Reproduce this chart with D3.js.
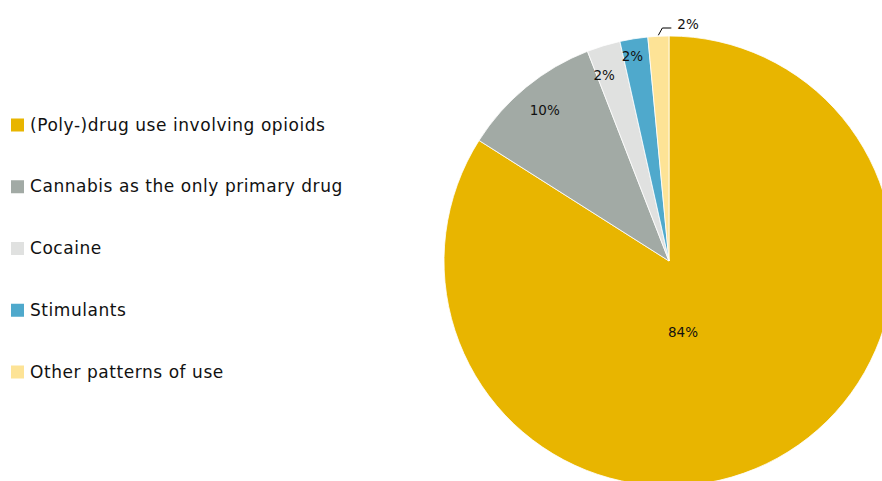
<!DOCTYPE html>
<html><head><meta charset="utf-8">
<script src="https://cdn.jsdelivr.net/npm/d3@7"></script>
<style>html,body{margin:0;padding:0;background:#fff;overflow:hidden}</style>
</head><body>
<svg id="chart" width="882" height="481"></svg>
<script>
const categories = ["(Poly-)drug use involving opioids","Cannabis as the only primary drug","Cocaine","Stimulants","Other patterns of use"];
const values = [84.0, 10.1, 2.4, 2.0, 1.5];
const labels = ["84%","10%","2%","2%","2%"];
const colors = ["#E8B500","#A2AAA5","#E0E1E0","#4FA9CC","#FDE396"];

const svg = d3.select("#chart");
const font = "'DejaVu Sans', Verdana, sans-serif";
const cx = 669, cy = 261, R = 225;
// label placement (layout only): radius factor and angle shift per slice
const labelRadius = [0.325, 0.87, 0.875, 0.925];
const labelShift = [0.31, 0, -0.04, -0.02];

const pie = d3.pie().sort(null).value(d => d)(values);
const arc = d3.arc().innerRadius(0).outerRadius(R);
const g = svg.append("g").attr("transform", `translate(${cx},${cy})`);
g.selectAll("path").data(pie).join("path")
  .attr("d", arc).attr("fill", (d,i) => colors[i])
  .attr("stroke", "#fff").attr("stroke-width", 0.8);

pie.forEach((d,i) => {
  const a = (d.startAngle + d.endAngle)/2;
  if (i === pie.length-1) {
    const x0 = Math.sin(a)*(R+1), y0 = -Math.cos(a)*(R+1);
    const x1 = x0 + 4, y1 = -R - 8;
    const x2 = x1 + 9;
    g.append("path").attr("d", `M${x0},${y0}L${x1},${y1}L${x2},${y1}`)
      .attr("fill","none").attr("stroke","#000").attr("stroke-width",1);
    g.append("text").attr("x", x2+6).attr("y", y1+1).attr("font-family", font)
      .attr("font-size", 13.5).attr("fill","#111").text(labels[i]);
    return;
  }
  const aa = a + labelShift[i], r = R*labelRadius[i];
  g.append("text").attr("x", Math.sin(aa)*r).attr("y", -Math.cos(aa)*r).attr("dy","0.35em")
    .attr("text-anchor","middle").attr("font-family", font)
    .attr("font-size", 13.5).attr("fill","#111").text(labels[i]);
});

// legend
const ly = d3.scalePoint().domain(categories).range([125, 372]);
const leg = svg.append("g");
categories.forEach((c,i) => {
  leg.append("rect").attr("x", 11).attr("y", ly(c)-6.5).attr("width", 13).attr("height", 13)
    .attr("fill", colors[i]);
  leg.append("text").attr("x", 30).attr("y", ly(c)+5.5).attr("font-family", font)
    .attr("font-size", 17).attr("letter-spacing", 0.55).attr("fill","#111").text(c);
});
</script>
</body></html>
